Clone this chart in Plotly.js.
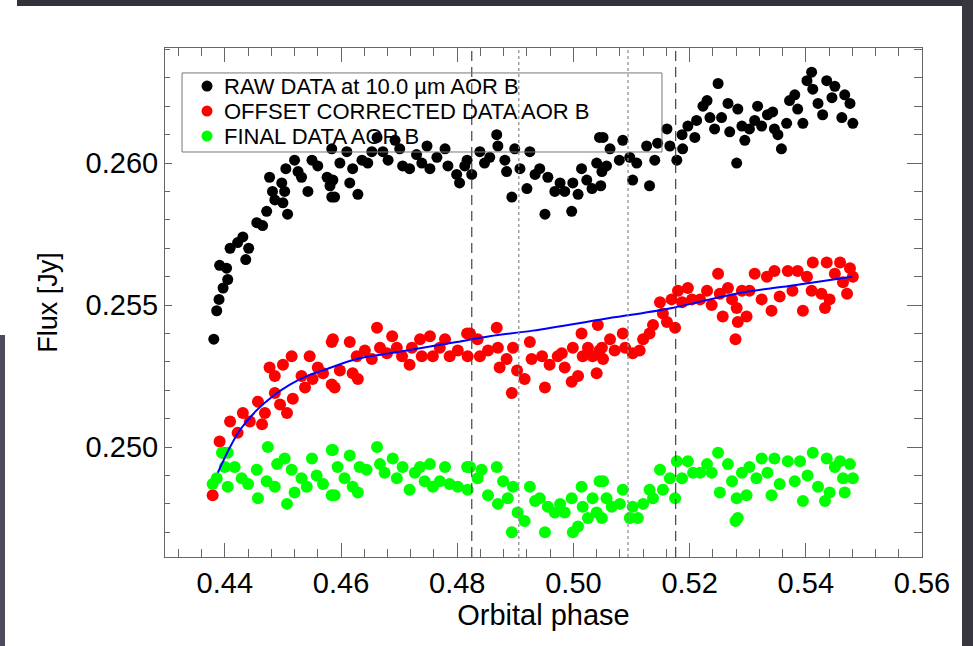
<!DOCTYPE html>
<html>
<head>
<meta charset="utf-8">
<script src="https://cdn.plot.ly/plotly-3.0.1.min.js"></script>
<style>
  html, body { margin: 0; padding: 0; background: #fff; }
  #wrap { position: relative; width: 973px; height: 646px; overflow: hidden; }
  #chart { position: absolute; left: 0; top: 0; width: 973px; height: 646px; }
  .frame { position: absolute; }
</style>
</head>
<body>
<div id="wrap">
  <div id="chart"></div>
  <div class="frame" style="left:17px;top:0;width:956px;height:6px;background:#33313b;"></div>
  <div class="frame" style="left:962px;top:0;width:11px;height:646px;background:#38363f;"></div>
  <div class="frame" style="left:0;top:335px;width:5px;height:311px;background:#4d4a5c;"></div>
</div>
<script>
// ---------- data ----------
const seriesNames = ['RAW DATA at 10.0 \u00b5m AOR B', 'OFFSET CORRECTED DATA AOR B', 'FINAL DATA AOR B'];
const seriesColors = ['#000000', '#ff0000', '#00ff00'];

const rawPhase = [0.4381,0.4386,0.4390,0.4391,0.4397,0.4403,0.4405,0.4409,0.4422,0.4431,0.4436,0.4441,0.4455,0.4465,0.4472,0.4477,0.4482,0.4486,0.4498,0.4500,0.4503,0.4505,0.4508,0.4520,0.4526,0.4532,0.4543,0.4550,0.4560,0.4576,0.4581,0.4584,0.4584,0.4586,0.4589,0.4598,0.4610,0.4615,0.4620,0.4629,0.4636,0.4646,0.4653,0.4662,0.4672,0.4681,0.4693,0.4701,0.4706,0.4718,0.4730,0.4739,0.4748,0.4753,0.4765,0.4779,0.4784,0.4799,0.4804,0.4813,0.4817,0.4825,0.4839,0.4847,0.4856,0.4868,0.4870,0.4882,0.4885,0.4894,0.4899,0.4908,0.4920,0.4925,0.4934,0.4942,0.4951,0.4956,0.4968,0.4977,0.4985,0.4997,0.4999,0.5008,0.5014,0.5023,0.5032,0.5040,0.5045,0.5047,0.5049,0.5051,0.5057,0.5063,0.5079,0.5085,0.5097,0.5102,0.5109,0.5126,0.5131,0.5140,0.5145,0.5161,0.5166,0.5178,0.5187,0.5188,0.5197,0.5209,0.5212,0.5223,0.5230,0.5235,0.5243,0.5249,0.5255,0.5266,0.5269,0.5281,0.5283,0.5290,0.5295,0.5303,0.5312,0.5317,0.5324,0.5334,0.5343,0.5346,0.5352,0.5358,0.5367,0.5372,0.5381,0.5386,0.5395,0.5402,0.5410,0.5412,0.5421,0.5429,0.5436,0.5445,0.5450,0.5462,0.5467,0.5476,0.5481];
const rawFlux = [0.2538,0.2548,0.2552,0.2564,0.2556,0.2563,0.2559,0.2570,0.2572,0.2574,0.2566,0.2570,0.2579,0.2578,0.2583,0.2595,0.2590,0.2587,0.2593,0.2586,0.2590,0.2598,0.2582,0.2601,0.2597,0.2595,0.2590,0.2601,0.2599,0.2595,0.2592,0.2588,0.2605,0.2594,0.2588,0.2600,0.2604,0.2593,0.2598,0.2589,0.2601,0.2600,0.2604,0.2609,0.2604,0.2601,0.2608,0.2605,0.2599,0.2598,0.2603,0.2600,0.2606,0.2598,0.2602,0.2605,0.2599,0.2596,0.2593,0.2599,0.2601,0.2596,0.2604,0.2600,0.2602,0.2610,0.2606,0.2601,0.2597,0.2588,0.2605,0.2598,0.2591,0.2604,0.2596,0.2598,0.2582,0.2595,0.2590,0.2593,0.2590,0.2583,0.2593,0.2589,0.2598,0.2594,0.2591,0.2600,0.2609,0.2592,0.2597,0.2609,0.2599,0.2605,0.2601,0.2608,0.2602,0.2594,0.2600,0.2606,0.2592,0.2601,0.2607,0.2612,0.2606,0.2601,0.2610,0.2605,0.2613,0.2609,0.2615,0.2620,0.2622,0.2616,0.2612,0.2628,0.2616,0.2621,0.2611,0.2600,0.2619,0.2613,0.2608,0.2612,0.2615,0.2620,0.2613,0.2617,0.2618,0.2612,0.2610,0.2605,0.2614,0.2622,0.2624,0.2619,0.2614,0.2629,0.2632,0.2626,0.2621,0.2617,0.2629,0.2623,0.2627,0.2616,0.2624,0.2621,0.2614];

const offsetPhase = [0.4379,0.4391,0.4397,0.4409,0.4422,0.4431,0.4443,0.4457,0.4464,0.4469,0.4477,0.4486,0.4486,0.4495,0.4500,0.4507,0.4515,0.4517,0.4532,0.4538,0.4546,0.4551,0.4560,0.4569,0.4584,0.4584,0.4586,0.4589,0.4598,0.4615,0.4620,0.4627,0.4629,0.4641,0.4653,0.4662,0.4667,0.4679,0.4688,0.4696,0.4705,0.4718,0.4722,0.4736,0.4739,0.4753,0.4758,0.4770,0.4779,0.4787,0.4801,0.4817,0.4818,0.4822,0.4835,0.4839,0.4853,0.4868,0.4870,0.4873,0.4885,0.4894,0.4896,0.4903,0.4916,0.4925,0.4928,0.4946,0.4951,0.4959,0.4973,0.4980,0.4985,0.4997,0.4999,0.5008,0.5014,0.5016,0.5025,0.5033,0.5040,0.5042,0.5045,0.5049,0.5051,0.5063,0.5071,0.5085,0.5089,0.5102,0.5114,0.5120,0.5131,0.5137,0.5149,0.5154,0.5161,0.5169,0.5175,0.5180,0.5187,0.5197,0.5204,0.5218,0.5230,0.5238,0.5249,0.5252,0.5257,0.5266,0.5273,0.5279,0.5281,0.5283,0.5290,0.5298,0.5303,0.5312,0.5324,0.5333,0.5341,0.5346,0.5355,0.5369,0.5377,0.5386,0.5395,0.5402,0.5410,0.5412,0.5427,0.5433,0.5436,0.5441,0.5450,0.5459,0.5464,0.5471,0.5476,0.5481];
const offsetFlux = [0.2483,0.2502,0.2498,0.2509,0.2505,0.2512,0.2509,0.2516,0.2508,0.2512,0.2528,0.2519,0.2525,0.2515,0.2529,0.2512,0.2532,0.2517,0.2525,0.2521,0.2532,0.2524,0.2528,0.2526,0.2537,0.2522,0.2538,0.2521,0.2527,0.2537,0.2526,0.2532,0.2524,0.2534,0.2531,0.2542,0.2535,0.2533,0.2539,0.2535,0.2532,0.2529,0.2535,0.2538,0.2532,0.2539,0.2532,0.2535,0.2538,0.2532,0.2534,0.2540,0.2532,0.2540,0.2538,0.2532,0.2534,0.2542,0.2535,0.2528,0.2531,0.2519,0.2535,0.2527,0.2524,0.2537,0.2531,0.2532,0.2521,0.2529,0.2532,0.2533,0.2528,0.2523,0.2535,0.2525,0.2540,0.2532,0.2535,0.2532,0.2526,0.2543,0.2534,0.2535,0.2531,0.2538,0.2534,0.2540,0.2535,0.2533,0.2534,0.2538,0.2540,0.2543,0.2551,0.2547,0.2544,0.2552,0.2542,0.2555,0.2551,0.2556,0.2552,0.2552,0.2555,0.2550,0.2561,0.2554,0.2546,0.2556,0.2552,0.2538,0.2549,0.2544,0.2555,0.2546,0.2555,0.2561,0.2552,0.2560,0.2548,0.2562,0.2553,0.2562,0.2555,0.2562,0.2548,0.2560,0.2555,0.2565,0.2554,0.2549,0.2565,0.2552,0.2561,0.2565,0.2558,0.2554,0.2563,0.2560];

const finalPhase = [0.4379,0.4386,0.4395,0.4400,0.4405,0.4405,0.4417,0.4429,0.4440,0.4455,0.4457,0.4472,0.4474,0.4486,0.4490,0.4503,0.4507,0.4515,0.4520,0.4532,0.4541,0.4550,0.4558,0.4569,0.4584,0.4584,0.4586,0.4589,0.4594,0.4606,0.4615,0.4620,0.4629,0.4632,0.4644,0.4662,0.4667,0.4675,0.4689,0.4696,0.4706,0.4718,0.4727,0.4736,0.4744,0.4753,0.4758,0.4770,0.4779,0.4787,0.4801,0.4817,0.4818,0.4822,0.4835,0.4842,0.4853,0.4868,0.4870,0.4879,0.4887,0.4894,0.4896,0.4904,0.4916,0.4925,0.4934,0.4942,0.4951,0.4956,0.4968,0.4977,0.4985,0.4997,0.4999,0.5008,0.5014,0.5016,0.5025,0.5033,0.5040,0.5045,0.5049,0.5051,0.5057,0.5066,0.5080,0.5085,0.5097,0.5102,0.5111,0.5120,0.5131,0.5137,0.5149,0.5154,0.5166,0.5175,0.5178,0.5187,0.5197,0.5206,0.5218,0.5230,0.5238,0.5249,0.5252,0.5266,0.5273,0.5279,0.5281,0.5283,0.5290,0.5298,0.5303,0.5315,0.5324,0.5334,0.5341,0.5346,0.5355,0.5369,0.5381,0.5390,0.5395,0.5403,0.5412,0.5421,0.5433,0.5436,0.5441,0.5450,0.5459,0.5464,0.5467,0.5476,0.5481];
const finalFlux = [0.2487,0.2489,0.2498,0.2493,0.2498,0.2486,0.2493,0.2489,0.2487,0.2492,0.2482,0.2488,0.2500,0.2486,0.2494,0.2496,0.2480,0.2492,0.2484,0.2489,0.2486,0.2496,0.2490,0.2487,0.2499,0.2483,0.2499,0.2483,0.2493,0.2489,0.2497,0.2486,0.2484,0.2493,0.2492,0.2500,0.2494,0.2491,0.2496,0.2489,0.2493,0.2485,0.2491,0.2493,0.2488,0.2494,0.2486,0.2488,0.2493,0.2487,0.2486,0.2493,0.2485,0.2493,0.2489,0.2492,0.2483,0.2493,0.2480,0.2488,0.2482,0.2470,0.2486,0.2477,0.2474,0.2486,0.2481,0.2482,0.2470,0.2479,0.2477,0.2480,0.2477,0.2482,0.2470,0.2472,0.2486,0.2479,0.2475,0.2482,0.2477,0.2488,0.2475,0.2488,0.2482,0.2479,0.2480,0.2485,0.2475,0.2479,0.2475,0.2480,0.2485,0.2482,0.2492,0.2485,0.2489,0.2482,0.2495,0.2489,0.2495,0.2491,0.2491,0.2494,0.2491,0.2498,0.2484,0.2494,0.2488,0.2474,0.2482,0.2475,0.2491,0.2483,0.2493,0.2489,0.2496,0.2491,0.2483,0.2496,0.2487,0.2495,0.2488,0.2495,0.2481,0.2490,0.2498,0.2486,0.2481,0.2496,0.2484,0.2493,0.2495,0.2489,0.2484,0.2494,0.2489];

const fitPhase = [0.4388,0.4397,0.4409,0.4426,0.4455,0.4483,0.4512,0.4541,0.4569,0.4627,0.4684,0.4741,0.4799,0.4856,0.4930,0.5050,0.5170,0.5280,0.5380,0.5480];
const fitFlux  = [0.2491,0.2495,0.2500,0.2506,0.2513,0.2518,0.2522,0.2525,0.2527,0.2531,0.2533,0.2535,0.2537,0.2539,0.2541,0.2545,0.2549,0.2554,0.2557,0.2560];

const contactPhases = [0.4825, 0.5176];     // dashed lines
const midPhases = [0.4906, 0.5094];         // dotted lines

const xTickVals = [0.44, 0.46, 0.48, 0.50, 0.52, 0.54, 0.56];
const yTickVals = [0.250, 0.255, 0.260];

// ---------- chart ----------
const FONT = 'Liberation Sans, Arial, Helvetica, sans-serif';
const yRange = [0.24613, 0.26405];
const xRange = [0.4297, 0.5600];

const traces = [
  {x: rawPhase, y: rawFlux, mode: 'markers', type: 'scatter', name: seriesNames[0],
   marker: {color: seriesColors[0], size: 11}, showlegend: false, hoverinfo: 'skip'},
  {x: offsetPhase, y: offsetFlux, mode: 'markers', type: 'scatter', name: seriesNames[1],
   marker: {color: seriesColors[1], size: 12}, showlegend: false, hoverinfo: 'skip'},
  {x: finalPhase, y: finalFlux, mode: 'markers', type: 'scatter', name: seriesNames[2],
   marker: {color: seriesColors[2], size: 12}, showlegend: false, hoverinfo: 'skip'},
  {x: fitPhase, y: fitFlux, mode: 'lines', type: 'scatter', name: 'fit',
   line: {color: '#0000ff', width: 2, shape: 'spline'}, showlegend: false, hoverinfo: 'skip'}
];

const shapes = [];
contactPhases.forEach(p => shapes.push({type: 'line', xref: 'x', yref: 'paper', x0: p, x1: p, y0: 0, y1: 1,
  line: {color: '#444', width: 1.2, dash: '10px,6px'}, layer: 'above'}));
midPhases.forEach(p => shapes.push({type: 'line', xref: 'x', yref: 'paper', x0: p, x1: p, y0: 0, y1: 1,
  line: {color: '#888', width: 1.2, dash: 'dot'}, layer: 'above'}));

// legend box (drawn manually to match the compact IDL legend)
shapes.push({type: 'rect', xref: 'paper', yref: 'paper', x0: 0.0225, x1: 0.6565, y0: 0.7957, y1: 0.951,
  line: {color: '#777', width: 1}, fillcolor: 'rgba(0,0,0,0)', layer: 'above'});
const legendRows = [0.9253, 0.8762, 0.8271];
const annotations = [];
seriesNames.forEach((nm, i) => {
  shapes.push({type: 'circle', xref: 'paper', yref: 'paper', xsizemode: 'pixel', ysizemode: 'pixel',
    xanchor: 0.0555, yanchor: legendRows[i], x0: -5.5, x1: 5.5, y0: -5.5, y1: 5.5,
    fillcolor: seriesColors[i], line: {width: 0}, layer: 'above'});
  annotations.push({xref: 'paper', yref: 'paper', x: 0.0766, y: legendRows[i], xanchor: 'left', yanchor: 'middle',
    text: nm, showarrow: false, borderpad: 0, font: {family: FONT, size: 22, color: '#000'}});
});

const layout = {
  width: 973, height: 646,
  margin: {l: 165, r: 51, t: 48, b: 89},
  paper_bgcolor: '#fff', plot_bgcolor: '#fff',
  showlegend: false,
  hovermode: false,
  font: {family: FONT, color: '#000'},
  xaxis: {
    range: xRange, showgrid: false, zeroline: false,
    showline: true, linecolor: '#666', linewidth: 1, mirror: 'ticks',
    ticks: 'inside', ticklen: 14, tickcolor: '#666', tickwidth: 1,
    tickvals: xTickVals, tickformat: '.2f',
    minor: {dtick: 0.004, tick0: 0.44, ticks: 'inside', ticklen: 8, tickcolor: '#666', showgrid: false},
    tickfont: {family: FONT, size: 29, color: '#000'},
    title: {text: 'Orbital phase', font: {family: FONT, size: 29, color: '#000'}, standoff: 2},
    automargin: false
  },
  yaxis: {
    range: yRange, showgrid: false, zeroline: false,
    showline: true, linecolor: '#666', linewidth: 1, mirror: true,
    ticks: 'inside', ticklen: 7, tickcolor: '#666', tickwidth: 1,
    tickvals: yTickVals, tickformat: '.3f',
    minor: {dtick: 0.001, tick0: 0.25, ticks: 'inside', ticklen: 5, tickcolor: '#666', showgrid: false},
    tickfont: {family: FONT, size: 29, color: '#000'},
    title: {text: 'Flux [Jy]', font: {family: FONT, size: 27, color: '#000'}, standoff: 20},
    automargin: false
  },
  yaxis2: {
    range: yRange, overlaying: 'y', side: 'right', showgrid: false, zeroline: false,
    showline: false, showticklabels: false,
    ticks: 'inside', ticklen: 15, tickcolor: '#666', tickwidth: 1,
    tickvals: yTickVals,
    minor: {dtick: 0.001, tick0: 0.25, ticks: 'inside', ticklen: 8, tickcolor: '#666', showgrid: false},
    automargin: false
  },
  shapes: shapes,
  annotations: annotations
};

traces.push({x: [xRange[0]], y: [null], yaxis: 'y2', mode: 'markers', showlegend: false, hoverinfo: 'skip'});

Plotly.newPlot('chart', traces, layout, {displayModeBar: false, staticPlot: true});
</script>
</body>
</html>
